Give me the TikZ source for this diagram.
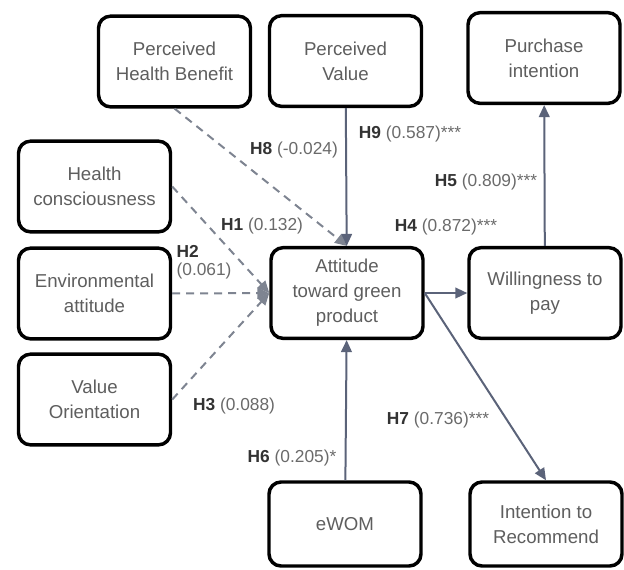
\documentclass[tikz,border=0pt]{standalone}
\usepackage{fontspec}
\setmainfont{Liberation Sans}
\usetikzlibrary{arrows.meta,positioning}
\definecolor{boxtext}{HTML}{5E5E5E}
\definecolor{labeltext}{HTML}{6A6A6A}
\definecolor{hypcol}{HTML}{333333}
\definecolor{pathline}{HTML}{5B6379}
\definecolor{dashline}{HTML}{7E8491}
\newcommand{\hname}[1]{{\color{hypcol}\textbf{#1}}}

\begin{document}
\begin{tikzpicture}[x=0.75pt,y=-0.75pt,
construct/.style={draw=black,line width=2.6pt,rounded corners=9pt,fill=white,align=center,text=boxtext,minimum width=114pt,minimum height=68pt,font=\fontsize{14}{18.75}\selectfont},
sig/.style={draw=pathline,line width=1.5pt,-{Triangle[length=9pt,width=8pt]}},
nonsig/.style={draw=dashline,line width=1.5pt,dash pattern=on 6pt off 4.5pt,-{Triangle[length=9pt,width=8pt]}},
coef/.style={text=labeltext,inner sep=1pt,font=\fontsize{13}{13.5}\selectfont}]
\useasboundingbox (0,0) rectangle (624,569);
\node [construct] (phb) at (174.5,61.5) {Perceived\\Health Benefit};
\node [construct] (pv) at (345.5,61) {Perceived\\Value};
\node [construct] (pi) at (544,58) {Purchase\\intention};
\node [construct] (hc) at (94.5,186.5) {Health\\consciousness};
\node [construct] (ea) at (94.5,293.5) {Environmental\\attitude};
\node [construct] (vo) at (94.5,399.5) {Value\\Orientation};
\node [construct] (att) at (347,293) {Attitude\\toward green\\product};
\node [construct] (wtp) at (545,293) {Willingness to\\pay};
\node [construct,minimum height=63pt] (ewom) at (345,524) {eWOM};
\node [construct,minimum height=63pt] (ir) at (546,524) {Intention to\\Recommend};

\draw [nonsig] (phb.south) -- (att.north);
\draw [sig] (pv) -- (att);
\draw [nonsig] (hc.east) -- (att.west);
\draw [nonsig] (ea) -- (att);
\draw [nonsig] (vo.east) -- (att.west);
\draw [sig] (att) -- (wtp);
\draw [sig] (wtp) -- (pi);
\draw [sig] (ewom) -- (att);
\draw [sig] (att.east) -- (ir.north);

\node [coef] (h8) at (294,150) {\hname{H8} (-0.024)};
\node [coef] (h9) at (410,134) {\hname{H9} (0.587)***};
\node [coef] (h1) at (262,226) {\hname{H1} (0.132)};
\node [coef,anchor=west,align=left] (h2) at (175,262) {\hname{H2}\\(0.061)};
\node [coef] (h4) at (446,227) {\hname{H4} (0.872)***};
\node [coef] (h5) at (486,182) {\hname{H5} (0.809)***};
\node [coef] (h3) at (234,406) {\hname{H3} (0.088)};
\node [coef] (h6) at (292,458) {\hname{H6} (0.205)*};
\node [coef] (h7) at (438,420) {\hname{H7} (0.736)***};
\end{tikzpicture}
\end{document}
